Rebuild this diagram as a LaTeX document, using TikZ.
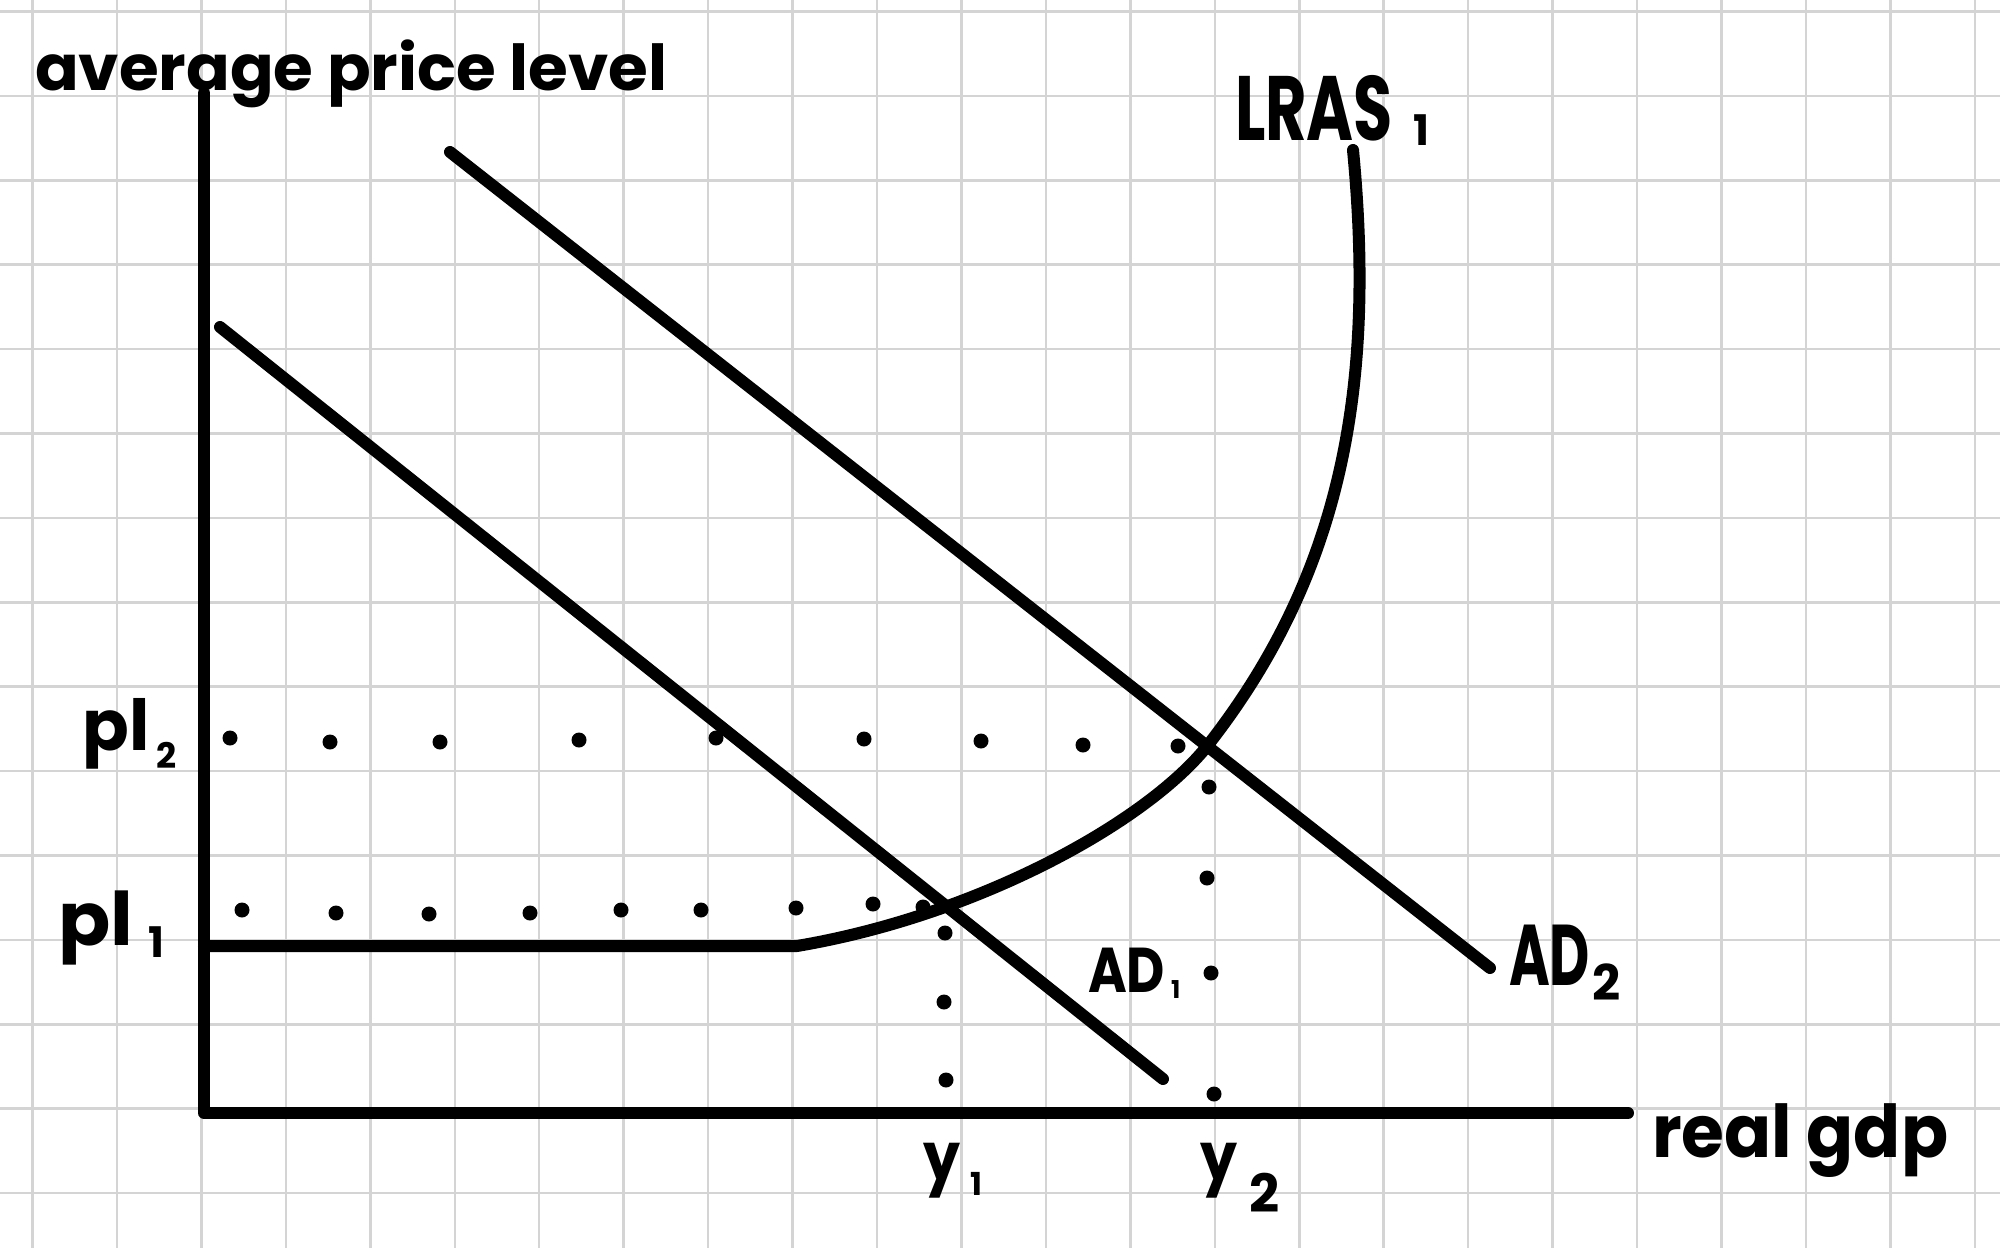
\documentclass[tikz,border=0pt]{standalone}
\usepackage{fontspec}
\setmainfont{Poppins}
\usepackage{graphicx}
\definecolor{gridc}{RGB}{212,212,212}
\tikzset{
  gridline/.style={draw=gridc, line width=0.025cm},
  curve/.style={draw=black, line width=0.12cm, line cap=round, line join=round},
  lbl/.style={inner sep=0pt, outer sep=0pt, anchor=base west, font=\bfseries},
}
\newcommand\fitw[2]{\resizebox{#1}{\height}{#2}}
\newcommand\hsub[3]{\raisebox{#1}{\fontsize{#2}{#2}\selectfont #3}}
\begin{document}
\begin{tikzpicture}[x=0.01cm,y=-0.01cm]
\fill[white] (0,0) rectangle (2000,1248);
\useasboundingbox (0,0) rectangle (2000,1248);
% grid paper
\foreach \k in {0,...,23} \draw[gridline] ({32.5+84.45*\k},0) -- ({32.5+84.45*\k},1248);
\foreach \k in {0,...,14} \draw[gridline] (0,{11.5+84.4*\k}) -- (2000,{11.5+84.4*\k});
% axes
\coordinate (ytop) at (204,93);
\coordinate (O) at (204,1113);
\coordinate (xend) at (1628,1113);
\draw[curve] (ytop) -- (O) -- (xend);
% AD curves
\coordinate (ad1s) at (220,327);
\coordinate (ad1e) at (1163,1079);
\coordinate (ad2s) at (450,152);
\coordinate (ad2e) at (1490,968);
\draw[curve] (ad1s) -- (ad1e);
\draw[curve] (ad2s) -- (ad2e);
% LRAS
\coordinate (lrasL) at (204,946);
\coordinate (kink) at (797,946);
\coordinate (eq2) at (1208,745);
\coordinate (lrasT) at (1353,150);
\draw[curve] (lrasL) -- (kink)
  .. controls (980,915) and (1148,821) .. (eq2)
  .. controls (1345,570) and (1375,380) .. (lrasT);
% dotted guides
\foreach \p in {(230,738),(330,742),(440,742),(579,740),(716,738),(864,739),(981,741),(1083,745),(1178,746),
                (242,910),(336,913),(429,914),(530,913),(621,910),(701,910),(796,908),(873,904),(923,907),
                (945,933),(944,1002),(946,1080),
                (1209,787),(1207,878),(1211,973),(1214,1094)}
  \fill[black] \p circle (7.5);
% labels
\node[lbl] (ylab) at (35,90) {\fontsize{18}{18}\selectfont\fitw{6.32cm}{average price level}};
\node[lbl] (lras) at (1235,140) {\fontsize{26}{26}\selectfont\fitw{1.58cm}{LRAS}\hspace{0.2cm}\hsub{-0.05cm}{12}{1}};
\node[lbl] (pl2) at (83,750) {\fontsize{20}{20}\selectfont\fitw{0.67cm}{pl}\hspace{0.06cm}\hsub{-0.18cm}{10}{2}};
\node[lbl] (pl1) at (58,945) {\fontsize{21}{21}\selectfont\fitw{0.75cm}{pl}\hspace{0.15cm}\hsub{-0.12cm}{12}{1}};
\node[lbl] (y1) at (923,1180) {\fontsize{19}{19}\selectfont\fitw{0.37cm}{y}\hspace{0.1cm}\hsub{-0.15cm}{9}{1}};
\node[lbl] (y2) at (1200,1180) {\fontsize{19}{19}\selectfont\fitw{0.37cm}{y}\hspace{0.12cm}\hsub{-0.32cm}{15}{2}};
\node[lbl] (ad1) at (1088,992) {\fontsize{18}{18}\selectfont\fitw{0.77cm}{AD}\hspace{0.06cm}\hsub{-0.06cm}{7}{1}};
\node[lbl] (ad2) at (1509,985) {\fontsize{24.5}{24.5}\selectfont\fitw{0.81cm}{AD}\hspace{0.02cm}\hsub{-0.15cm}{14}{2}};
\node[lbl] (xlab) at (1652,1157) {\fontsize{20.7}{20.7}\selectfont\fitw{2.96cm}{real gdp}};
\end{tikzpicture}
\end{document}
